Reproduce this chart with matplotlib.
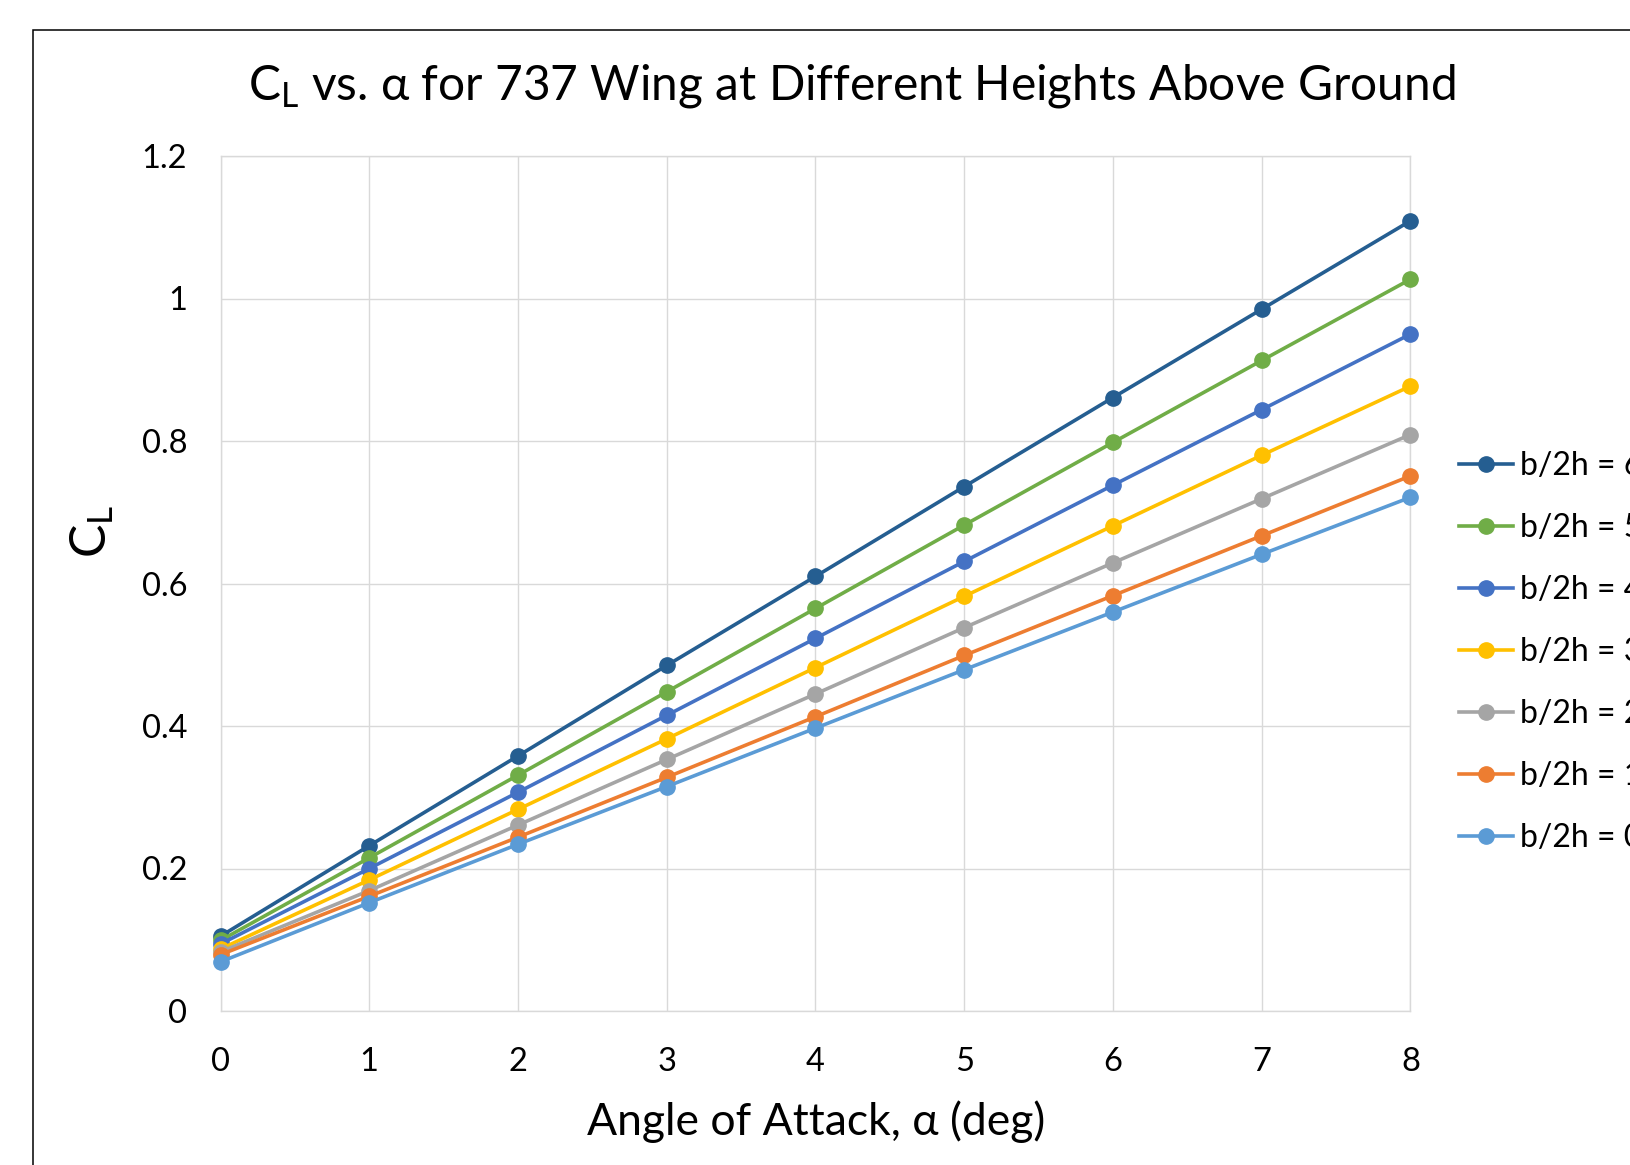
import matplotlib
matplotlib.use("Agg")
import matplotlib.pyplot as plt
from matplotlib.patches import Rectangle

plt.rcParams['font.family'] = ['Lato', 'DejaVu Sans']
plt.rcParams['mathtext.fontset'] = 'custom'
plt.rcParams['mathtext.rm'] = 'Lato'

alpha = [0, 1, 2, 3, 4, 5, 6, 7, 8]
labels = ["b/2h = 6", "b/2h = 5", "b/2h = 4", "b/2h = 3", "b/2h = 2", "b/2h = 1", "b/2h = 0"]
cl_6 = [0.105, 0.232, 0.358, 0.485, 0.610, 0.736, 0.861, 0.985, 1.109]
cl_5 = [0.099, 0.215, 0.331, 0.448, 0.565, 0.682, 0.798, 0.913, 1.027]
cl_4 = [0.094, 0.200, 0.307, 0.415, 0.523, 0.631, 0.738, 0.844, 0.950]
cl_3 = [0.087, 0.184, 0.283, 0.382, 0.482, 0.582, 0.681, 0.780, 0.877]
cl_2 = [0.083, 0.169, 0.261, 0.353, 0.445, 0.538, 0.629, 0.719, 0.809]
cl_1 = [0.079, 0.161, 0.244, 0.328, 0.413, 0.499, 0.583, 0.667, 0.751]
cl_0 = [0.069, 0.152, 0.234, 0.315, 0.397, 0.479, 0.560, 0.641, 0.721]
series = [cl_6, cl_5, cl_4, cl_3, cl_2, cl_1, cl_0]
colors = ['#255E91', '#70AD47', '#4472C4', '#FFC000', '#A5A5A5', '#ED7D31', '#5B9BD5']

W, H = 1631, 1165
fig = plt.figure(figsize=(W / 100, H / 100), dpi=100)

# outer chart border (clipped by figure edge, as in the reference)
fig.patches.append(Rectangle((33 / W, -0.1), 2.0, 1 - 30 / H + 0.1, transform=fig.transFigure,
                             fill=False, edgecolor='black', linewidth=1.1, zorder=0))

ax = fig.add_axes([220.5 / W, 1 - 1011 / H, (1410.5 - 220.5) / W, (1011 - 156) / H])
for y, lab, c in zip(series, labels, colors):
    ax.plot(alpha, y, color=c, linewidth=2.6, marker='o', markersize=11,
            label=lab, clip_on=False, zorder=3)

ax.set_xlim(0, 8)
ax.set_ylim(0, 1.2)
ax.set_xticks(range(0, 9))
ax.set_yticks([0, 0.2, 0.4, 0.6, 0.8, 1.0, 1.2])
ax.set_yticklabels(['0', '0.2', '0.4', '0.6', '0.8', '1', '1.2'])
ax.grid(True, color='#D9D9D9', linewidth=1.0, zorder=0)
ax.set_axisbelow(True)
for s in ax.spines.values():
    s.set_color('#D9D9D9')
    s.set_linewidth(1.0)
ax.tick_params(axis='both', length=0, labelsize=23.5, colors='black')
ax.tick_params(axis='x', pad=26)
ax.tick_params(axis='y', pad=24)

fig.text(852 / W, 1 - 100 / H,
         r'$\mathregular{C_L}$ vs. α for 737 Wing at Different Heights Above Ground',
         ha='center', va='baseline', fontsize=34.5)
fig.text(816 / W, 1 - 1135 / H, 'Angle of Attack, α (deg)', ha='center', va='baseline', fontsize=32)
fig.text(92 / W, 1 - 531 / H, r'$\mathregular{C_L}$', rotation=90, ha='center', va='center', fontsize=36)

handles, labs = ax.get_legend_handles_labels()
fig.legend(handles, labs, loc='center left', bbox_to_anchor=(1459 / W, 1 - 652 / H),
           frameon=False, fontsize=23, handlelength=1.7, handletextpad=0.2,
           labelspacing=1.0, borderpad=0, borderaxespad=0)

fig.savefig('out.png', dpi=100)
